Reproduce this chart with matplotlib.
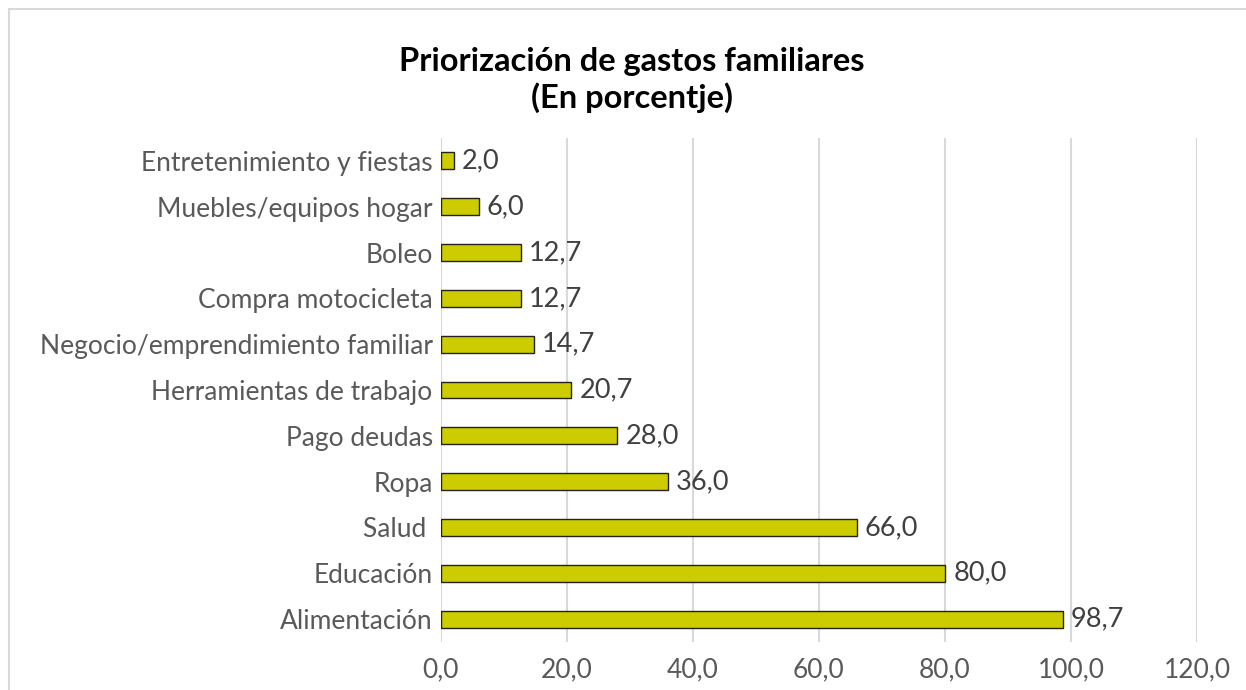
import matplotlib
matplotlib.use("Agg")
import matplotlib.pyplot as plt
from matplotlib.patches import Rectangle

categories = ["Alimentación", "Educación", "Salud ", "Ropa", "Pago deudas",
              "Herramientas de trabajo", "Negocio/emprendimiento familiar",
              "Compra motocicleta", "Boleo", "Muebles/equipos hogar",
              "Entretenimiento y fiestas"]
values = [98.7, 80.0, 66.0, 36.0, 28.0, 20.7, 14.7, 12.7, 12.7, 6.0, 2.0]
xticks = [0, 20, 40, 60, 80, 100, 120]

plt.rcParams['font.family'] = ['Lato', 'DejaVu Sans']

fig = plt.figure(figsize=(12.46, 6.9), dpi=100)
fig.patch.set_facecolor('white')
# chart border
fig.add_artist(Rectangle((9/1246, -0.05), 1.1, 1 - 9/690 + 0.05, transform=fig.transFigure,
                         fill=False, edgecolor='#D9D9D9', linewidth=1.5))

ax = fig.add_axes([441/1246, 1 - 642/690, (1197 - 441)/1246, (642 - 138)/690])
y = list(range(len(categories)))
ax.barh(y, values, height=0.37, color='#CCCC00', edgecolor='#222222', linewidth=1.0, zorder=3)
for yi, v in zip(y, values):
    ax.text(v + 1.3, yi, f"{v:.1f}".replace('.', ','), va='center', ha='left',
            fontsize=19.5, color='#404040', zorder=4)

ax.set_xlim(0, 120)
ax.set_ylim(-0.5, len(categories) - 0.5)
ax.set_yticks(y)
ax.set_yticklabels(categories, fontsize=19, color='#595959')
ax.set_xticks(xticks)
ax.set_xticklabels([f"{t:.1f}".replace('.', ',') for t in xticks], fontsize=19, color='#595959')
ax.tick_params(axis='both', length=0, pad=6)
ax.tick_params(axis='x', pad=11)
ax.xaxis.grid(True, color='#D9D9D9', linewidth=1.5, zorder=0)
ax.set_axisbelow(True)
for s in ax.spines.values():
    s.set_visible(False)

fig.text(632/1246, 1 - 62/690, "Priorización de gastos familiares", ha='center', va='center',
         fontsize=23.5, fontweight='bold', color='black')
fig.text(632/1246, 1 - 98/690, "(En porcentje)", ha='center', va='center',
         fontsize=23.5, fontweight='bold', color='black')

fig.savefig("out.png", dpi=100, facecolor='white')
